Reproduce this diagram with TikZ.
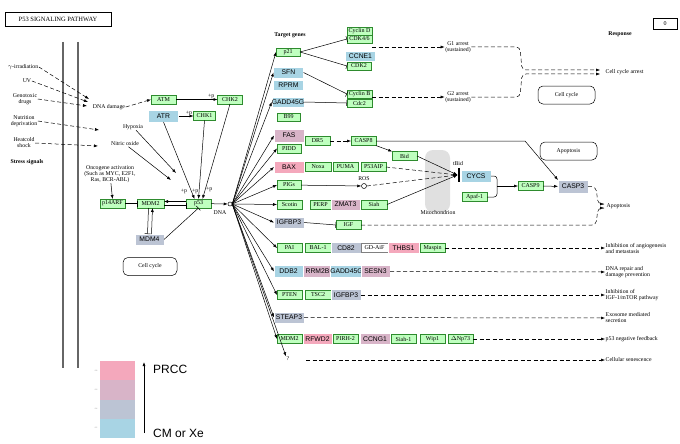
\documentclass[tikz,border=0pt]{standalone}
\usepackage{fontspec}
\setmainfont{Liberation Serif}
\setsansfont{Liberation Sans}
\usetikzlibrary{arrows.meta}
\definecolor{gG}{HTML}{BFFFBF}\definecolor{gB}{HTML}{A8D4E4}\definecolor{gM}{HTML}{D8B4C8}
\definecolor{gP}{HTML}{F4A8BC}\definecolor{gY}{HTML}{BCC4D4}\definecolor{gD}{HTML}{2E8B2E}
\tikzset{
 base/.style={draw,inner sep=0pt,minimum height=9,minimum width=25,outer sep=0pt},
 gr/.style={base,fill=gG,draw=gD,font=\fontsize{6}{6}\selectfont},
 gcb/.style={base,fill=gB,draw=white,minimum height=12,minimum width=30,font=\sffamily\fontsize{6.8}{7}\selectfont},
 gcm/.style={gcb,fill=gM},gcp/.style={gcb,fill=gP},gcy/.style={gcb,fill=gY},
 lbl/.style={font=\fontsize{5.8}{6}\selectfont,align=center,inner sep=0.5pt},
 lbll/.style={lbl,align=left,anchor=west},
 ar/.style={-{Latex[length=4,width=3]},line width=0.5pt},
 da/.style={ar,dash pattern=on 4pt off 2.5pt},
 dl/.style={line width=0.5pt,dash pattern=on 4pt off 2.5pt},
 inh/.style={-{Bar[width=6]},line width=0.5pt},
 rb/.style={draw,rounded corners=5,line width=0.5pt,font=\fontsize{5.8}{6}\selectfont}
}
\begin{document}
\begin{tikzpicture}[x=1pt,y=-1pt]
\useasboundingbox (0,0) rectangle (680,444);
\fill[white] (0,0) rectangle (680,444);
\node[draw,line width=1pt,inner sep=2pt,font=\fontsize{6.5}{6.5}\selectfont,minimum width=106,minimum height=14] (title) at (58,19.5) {P53 SIGNALING PATHWAY};
\node[draw,minimum width=24,minimum height=11,inner sep=0,font=\fontsize{6}{6}\selectfont] (zero) at (665,24) {0};
\draw[line width=2.5pt,gray!80!black] (63,42)--(63,368) (78,42)--(78,368);
% stress
\node[lbl] (s1) at (23,67) {$\gamma$-irradiation};
\node[lbl] (s2) at (27,81) {UV};
\node[lbl] (s3) at (25,99) {Genotoxic\\drugs};
\node[lbl] (s4) at (24,121) {Nutrition\\deprivation};
\node[lbl] (s5) at (24,143) {Heatcold\\shock};
\node[lbl,font=\bfseries\fontsize{5.8}{6}\selectfont] (s6) at (27,162) {Stress signals};
\coordinate (t1) at (89,99);\coordinate (t2) at (88,102);\coordinate (t3) at (87,106);
\coordinate (t4) at (99,130);\coordinate (t5) at (98,146);
\draw[da] (s1.east)--(t1); \draw[da] (s2.east)--(t2); \draw[da] (s3.east)--(t3);
\draw[da] (s4.east)--(t4); \draw[da] (s5.east)--(t5);
\node[lbl] (dd) at (109,107) {DNA damage};
\node[gr] (ATM) at (163.5,99.5) {ATM};
\node[gr] (CHK2) at (230,99.5) {CHK2};
\node[gcb] (ATR) at (163.5,116) {ATR};
\node[gr,minimum width=22] (CHK1) at (204.5,116) {CHK1};
\draw[da] (dd.east)--(ATM.west);
\draw[ar] (ATM)--node[lbl,above,pos=0.85]{+p}(CHK2);
\draw[ar] (ATR)--node[lbl,above,pos=0.7]{+p}(CHK1);
\node[lbl] (hyp) at (133,127) {Hypoxia};
\node[lbl] (no) at (125,144) {Nitric oxide};
\node[lbl] (onc) at (110,174) {Oncogene activation\\(Such as MYC, E2F1,\\Ras, BCR-ABL)};
\coordinate (h1) at (176,173); \coordinate (h2) at (171,180);
\draw[ar] (hyp)--(h1); \draw[ar] (no)--(h2);
\node[gr] (p14) at (112.5,203.5) {p14ARF};
\node[gr,minimum width=27] (MDM2) at (150.5,203.5) {MDM2};
\node[gr] (p53) at (198.5,203.5) {p53};
\node[gcy,minimum width=29,minimum height=11] (MDM4) at (149.5,239.5) {MDM4};
\draw[ar] (onc)--(p14.north);
\draw[inh] (p14)--(MDM2);
\draw[inh] ([yshift=-2]MDM2.east)--([yshift=-2]p53.west);
\draw[ar] ([yshift=2]p53.west)--([yshift=2]MDM2.east);
\draw[inh] ([xshift=-2]MDM2.south)--([xshift=-2]MDM4.north);
\draw[ar] ([xshift=2]MDM4.north)--([xshift=2]MDM2.south);
\draw[inh] (MDM4.east)--(p53.south);
\draw[ar] (ATR.south)--node[lbl,right,pos=0.9]{+p}([xshift=-4]p53.north);
\draw[ar] (CHK1.south)--([xshift=0]p53.north);
\draw[ar] (CHK2.south)--node[lbl,right,pos=0.9]{+p}([xshift=4]p53.north);
\node[lbl] at (184,191) {+p};
\node[draw,circle,fill=white,inner sep=0,minimum size=4,line width=0.5pt] (dna) at (230,204) {};
\node[lbl] at (220,213) {DNA};
\draw[ar] (p53)--(dna);
\node[rb,minimum width=54,minimum height=18] (cc1) at (150,266.5) {Cell cycle};
% targets
\node[lbl,font=\bfseries\fontsize{5.8}{6}\selectfont] at (290,35) {Target genes};
\node[lbl,font=\bfseries\fontsize{5.8}{6}\selectfont] at (620,34) {Response};
\node[gr,minimum width=24,minimum height=8] (p21) at (288,52) {p21};
\node[gr,minimum height=8] (CycD) at (359.5,31) {Cyclin D};
\node[gr,minimum height=8] (CDK4) at (359.5,39) {CDK4/6};
\node[gcb,minimum height=10] (CCNE1) at (360.5,56) {CCNE1};
\node[gr,minimum width=24,minimum height=8] (CDK2) at (359,66) {CDK2};
\node[gcb,minimum height=11] (SFN) at (288.5,72.5) {SFN};
\node[gcb,minimum height=10] (RPRM) at (288.5,85) {RPRM};
\node[gcb,minimum width=32,minimum height=10] (GADD) at (288,102) {GADD45G};
\node[gr,minimum height=8] (CycB) at (359.5,94) {Cyclin B};
\node[gr,minimum height=8] (Cdc2) at (359.5,103) {Cdc2};
\node[gr,minimum width=23,minimum height=8] (B99) at (288.5,117) {B99};
\draw[inh] (p21.east)--(CDK4.west); \draw[inh] (p21.east)--(CDK2.west);
\draw[inh] (SFN.east)--(CycB.west); \draw[inh] (GADD.east)--(Cdc2.west);
\node[lbl] (G1) at (458,47) {G1 arrest\\(sustained)};
\node[lbl] (G2) at (458,97) {G2 arrest\\(sustained)};
\draw[da] (CDK4.east|-G1)--(G1.west);
\draw[da] (Cdc2.east|-G2)--(G2.west);
\node[lbl,anchor=west] (CCA) at (605,72) {Cell cycle arrest};
\draw[dl,rounded corners=4] (G1.east)--(520,47)--(522,70)--(598,70);
\draw[dl,rounded corners=4] (G2.east)--(520,97)--(522,74)--(598,74);
\draw[-{Latex[length=4,width=3]}] (596,70)--(600,70);
\draw[-{Latex[length=4,width=3]}] (596,74)--(600,74);
\node[rb,minimum width=57,minimum height=18] (cc2) at (566.5,95) {Cell cycle};
\node[rb,minimum width=57,minimum height=18] (apo) at (568.5,151) {Apoptosis};
% apoptosis block
\node[fill=black!12,rounded corners=8,minimum width=25,minimum height=62,inner sep=0] (mito) at (437.5,181) {};
\node[lbl] at (438,213) {Mitochondrion};
\node[gcm,minimum height=13] (FAS) at (289,135.5) {FAS};
\node[gr,minimum width=24] (PIDD) at (289,148.5) {PIDD};
\node[gr] (DR5) at (317.5,141) {DR5};
\node[gr] (CASP8) at (363.5,141) {CASP8};
\node[gr] (Bid) at (404.5,156) {Bid};
\node[gcp] (BAX) at (289,167) {BAX};
\node[gr,minimum width=26] (Noxa) at (318,167) {Noxa};
\node[gr] (PUMA) at (345.5,167) {PUMA};
\node[gr] (P53AIP) at (373.5,167) {P53AIP};
\node[gr,minimum width=24] (PIGs) at (289,185) {PIGs};
\node[draw,circle,inner sep=0,minimum size=5,line width=0.5pt] (ROS) at (364,186) {};
\node[lbl] at (364,179) {ROS};
\node[gr] (Scotin) at (289.5,204.5) {Scotin};
\node[gr,minimum width=21] (PERP) at (320.5,204.5) {PERP};
\node[gcm,minimum width=29,minimum height=11] (ZMAT3) at (345.5,204.5) {ZMAT3};
\node[gr,minimum width=26] (Siah) at (374,204.5) {Siah};
\node[fill=black,minimum width=2.5,minimum height=14,inner sep=0] (bar) at (459,175) {};
\node[lbl] at (458,164) {tBid};
\node[gcb] (CYCS) at (476,176) {CYCS};
\node[gr] (Apaf) at (474.5,197) {Apaf-1};
\node[gr] (CASP9) at (530.5,186) {CASP9};
\node[gcy,minimum height=13] (CASP3) at (573,186.5) {CASP3};
\draw[da] (DR5)--(CASP8); \draw[ar] (CASP8)--(Bid);
\draw[ar] (Bid.east)--(bar.west);
\draw[da] (P53AIP.east)--(bar.west);
\draw[ar] (PIGs)--(ROS);
\draw[da] (ROS.east)--(bar.west);
\draw[ar] (Siah.east)--(bar.west);
\draw[line width=0.5pt,rounded corners=3] (CYCS.east)--(497,176)--(497,197)--(Apaf.east);
\draw[ar] (497,186)--(CASP9.west);
\draw[ar] (CASP9)--(CASP3);
\draw[ar] (CASP8.east)--(525,141)--(CASP3.north west);
\node[lbl,anchor=west] (Apo2) at (606,206) {Apoptosis};
\draw[dl,rounded corners=4] (CASP3.east)--(596,187)--(598,204)--(604,204);
\draw[-{Latex[length=4,width=3]}] (600,204)--(604,204);
\draw[-{Latex[length=4,width=3]}] (600,208)--(604,208);
\node[gcy,minimum height=11] (IGFBP3) at (289,222.5) {IGFBP3};
\node[gr] (IGF) at (348.5,225) {IGF};
\draw[inh] (IGFBP3.east)--(IGF.west);
\draw[dl,rounded corners=4] (IGF.east)--(596,225)--(598,208)--(604,208);
% response rows
\node[gr] (PAI) at (289.5,248) {PAI};
\node[gr,minimum width=26] (BAL) at (318,248) {BAL-1};
\node[gcy,minimum height=11] (CD82) at (346,248) {CD82};
\node[base,draw=gray,fill=white,minimum width=27,font=\fontsize{6}{6}\selectfont] (GD) at (374.5,248) {GD-AiF};
\node[gcp,minimum width=31,minimum height=11] (THBS1) at (403.5,248) {THBS1};
\node[gr] (Maspin) at (432.5,248) {Maspin};
\node[lbll] (r1) at (605,248) {Inhibition of angiogenesis\\and metastasis};
\draw[da] (Maspin.east)--(r1.west);
\node[gcb,minimum width=29] (DDB2) at (288.5,271.5) {DDB2};
\node[gcm,minimum width=29] (RRM2B) at (317.5,271.5) {RRM2B};
\node[gcb,minimum width=29] (GADD2) at (346.5,271.5) {GADD45G};
\node[gcm,minimum width=29] (SESN3) at (375.5,271.5) {SESN3};
\node[lbll] (r2) at (605,272) {DNA repair and\\damage prevention};
\draw[da] (SESN3.east)--(r2.west);
\node[gr] (PTEN) at (289.5,295) {PTEN};
\node[gr,minimum width=26] (TSC2) at (318,295) {TSC2};
\node[gcy,minimum height=11] (IGFBP3b) at (346,295) {IGFBP3};
\node[lbll] (r3) at (605,295) {Inhibition of\\IGF-1/mTOR pathway};
\draw[da] (IGFBP3b.east)--(r3.west);
\node[gcy,minimum height=11] (STEAP3) at (289,317.5) {STEAP3};
\node[lbll] (r4) at (605,318) {Exosome mediated\\secretion};
\draw[da] (STEAP3.east)--(r4.west);
\node[gr] (MDM2b) at (289.5,339) {MDM2};
\node[gcp,minimum width=29,minimum height=11] (RFWD2) at (317.5,339) {RFWD2};
\node[gr] (PIRH) at (345.5,339) {PIRH-2};
\node[gcm,minimum height=11] (CCNG1) at (375,339) {CCNG1};
\node[gr] (Siah1) at (403.5,339) {Siah-1};
\node[gr] (Wip1) at (432.5,339) {Wip1};
\node[gr] (DNp73) at (460.5,339) {$\Delta$Np73};
\node[lbll] (r5) at (605,339) {p53 negative feedback};
\draw[da] (DNp73.east)--(r5.west);
\node[lbl] (q) at (288,359) {?};
\node[lbll] (r6) at (605,360) {Cellular senescence};
\draw[da] (306,360)--(r6.west);
% DNA fan
\foreach \t in {p21,SFN,GADD,FAS,PIDD,BAX,PIGs,Scotin,IGFBP3,PAI,DDB2,PTEN,STEAP3,MDM2b}
  \draw[ar] (dna.east)--(\t.west);
\draw[ar] (dna.east)--(q.north west);
% legend
\fill[gP] (100,361) rectangle (135,380);
\fill[gM] (100,380) rectangle (135,400);
\fill[gY] (100,400) rectangle (135,419);
\fill[gB] (100,419) rectangle (135,438);
\foreach \y/\v in {371/0.8,390/0.6,409/0.4,428/0.2}\node[font=\fontsize{2}{2}\selectfont,gray,inner sep=0] at (96,\y) {\v};
\draw[-{Latex[length=4,width=3]},line width=0.6pt] (144,433)--(144,362);
\node[font=\sffamily\fontsize{12}{12}\selectfont,anchor=west,inner sep=0] (prcc) at (153,369) {PRCC};
\node[font=\sffamily\fontsize{12}{12}\selectfont,anchor=west,inner sep=0] (cmxe) at (153,433) {CM or Xe};
\end{tikzpicture}
\end{document}
